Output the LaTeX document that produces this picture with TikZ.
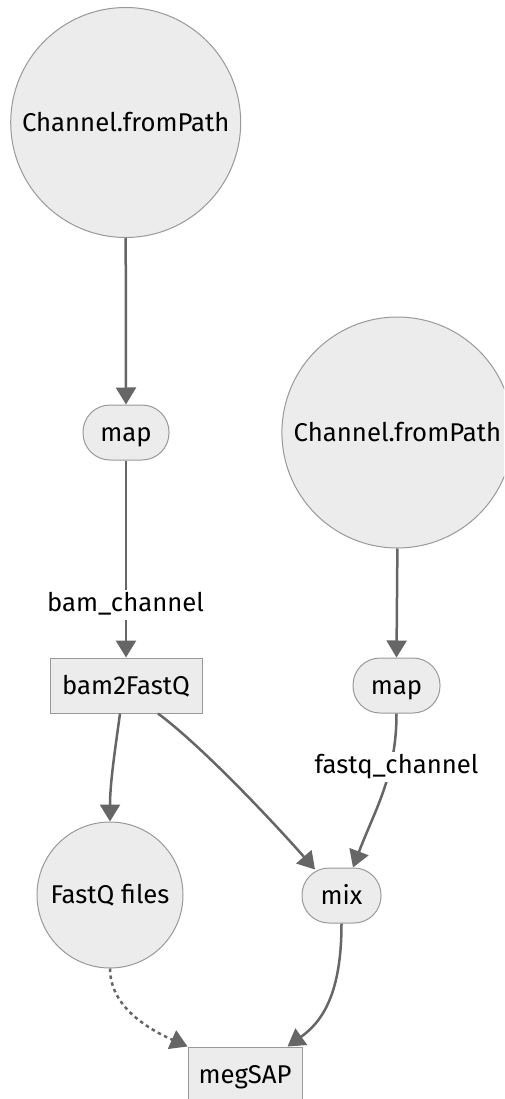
\documentclass[tikz,border=0pt]{standalone}
\usepackage{fontspec}
\setmainfont{Fira Sans}
\usetikzlibrary{arrows.meta}
\definecolor{ndfill}{HTML}{ECECEC}
\definecolor{ndline}{HTML}{999999}
\definecolor{edgec}{HTML}{666666}
\newcommand\diafont{\fontsize{25.7}{30}\selectfont}
\begin{document}
\begin{tikzpicture}[x=1pt,y=-1pt,
  nd/.style={draw=ndline, fill=ndfill, line width=1pt, inner sep=0pt, font=\diafont, text=black, text height=17.6pt, text depth=0pt},
  circ/.style={nd, circle, minimum size=#1},
  stad/.style={nd, rectangle, rounded corners=27pt, minimum height=55pt},
  box/.style={nd, rectangle, minimum height=55pt},
  edge/.style={draw=edgec, line width=2.5pt, -{Triangle[length=17pt,width=20pt]}},
  dashedge/.style={edge, dash pattern=on 3.5pt off 3.5pt},
  elbl/.style={fill=white, inner xsep=2pt, inner ysep=0pt, minimum height=30pt, text height=18pt, text depth=5pt, font=\diafont, text=black}]
\useasboundingbox (0,0) rectangle (504,1099);
\clip (0,0) rectangle (504,1099);
\fill[white] (0,0) rectangle (504,1099);
% nodes
\node[circ=230pt] (c1) at (125.7,122.5) {Channel.fromPath};
\node[stad, minimum width=86pt] (m1) at (126,432.5) {map};
\node[box, minimum width=152pt] (b2f) at (126,685.5) {bam2FastQ};
\node[circ=231pt] (c2) at (397.4,432.5) {Channel.fromPath};
\node[stad, minimum width=87pt] (m2) at (396.5,685.5) {map};
\node[circ=146pt] (fq) at (110,895) {FastQ files};
\node[stad, minimum width=79pt] (mix) at (341.5,895.5) {mix};
\node[box, minimum width=114pt] (meg) at (245,1074.5) {megSAP};
% edges
\draw[edge] (c1.south) -- (m1.north);
\draw[edge] (m1.south) -- (b2f.north);
\draw[edge] (c2.south) -- (m2.north);
\draw[edge] (m2.south) .. controls +(0,62) and +(22,-58) .. ([xshift=11.5pt]mix.north);
\draw[edge] ([xshift=-6pt]b2f.south) .. controls +(-4,30) and +(0,-40) .. (fq.north);
\draw[edge] ([xshift=32pt]b2f.south) .. controls +(47,35) and +(-35,-40) .. ([xshift=-26.5pt,yshift=-2pt]mix.north);
\draw[dashedge] (fq.south) .. controls +(0,35) and +(-45,-20) .. (meg.north west);
\draw[edge] (mix.south) .. controls +(0,70) and +(35,-25) .. ([xshift=-15pt]meg.north east);
% edge labels
\node[elbl] (l1) at (125.5,605) {bam\_channel};
\node[elbl] (l2) at (396.5,767) {fastq\_channel};
\end{tikzpicture}
\end{document}
